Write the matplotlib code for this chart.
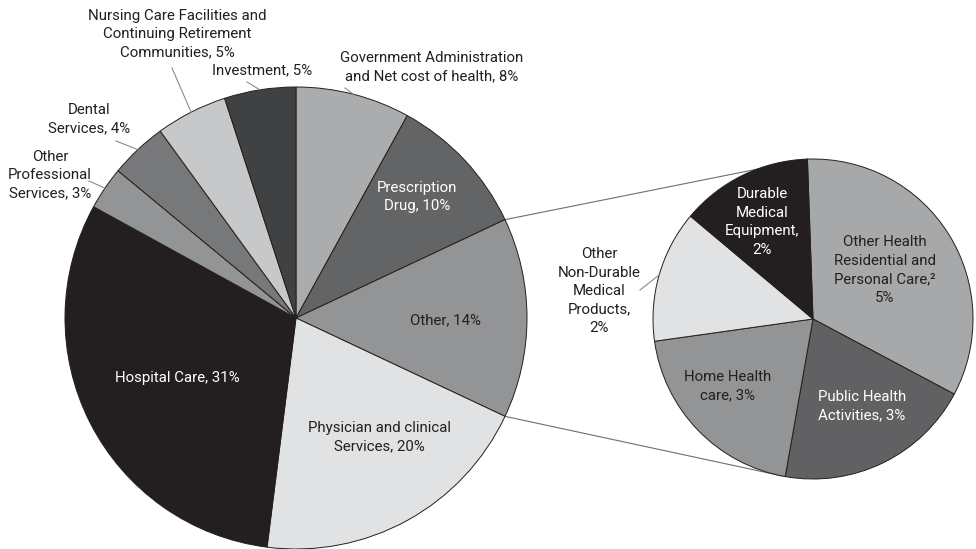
import numpy as np
import matplotlib.pyplot as plt

plt.rcParams['font.family'] = ['Roboto', 'DejaVu Sans']

W, H = 976, 549

# national health expenditure shares
main_labels = ["Government Administration\nand Net cost of health, 8%",
               "Prescription\nDrug, 10%",
               "Other, 14%",
               "Physician and clinical\nServices, 20%",
               "Hospital Care, 31%",
               "Other\nProfessional\nServices, 3%",
               "Dental\nServices, 4%",
               "Nursing Care Facilities and\nContinuing Retirement\nCommunities, 5%",
               "Investment, 5%"]
main_values = [8, 10, 14, 20, 31, 3, 4, 5, 5]
main_colors = ["#abacae", "#636466", "#939496", "#e1e2e3", "#231f20",
               "#939496", "#77787a", "#c7c8ca", "#404143"]

# breakdown of the "Other" slice
other_labels = ["Other Health\nResidential and\nPersonal Care,\u00b2\n5%",
                "Public Health\nActivities, 3%",
                "Home Health\ncare, 3%",
                "Other\nNon-Durable\nMedical\nProducts,\n2%",
                "Durable\nMedical\nEquipment,\n2%"]
other_values = [5, 3, 3, 2, 2]
other_colors = ["#a7a8aa", "#616163", "#939496", "#e1e2e3", "#231f20"]

big_c, big_r = (296, H - 318), 231
small_c, small_r = (813, H - 319), 160
big_start, small_start = 90, 92

fig = plt.figure(figsize=(9.76, 5.49), dpi=100)
ax = fig.add_axes([0, 0, 1, 1])

wp = dict(edgecolor="#231f20", linewidth=0.7)
ax.pie(main_values, colors=main_colors, startangle=big_start, counterclock=False,
       center=big_c, radius=big_r, wedgeprops=wp, frame=True)
ax.pie(other_values, colors=other_colors, startangle=small_start, counterclock=False,
       center=small_c, radius=small_r, wedgeprops=wp, frame=True)

ax.set_xlim(0, W)
ax.set_ylim(0, H)
ax.set_aspect("equal")
ax.axis("off")


def edge_angles(values, start):
    cum = np.concatenate([[0], np.cumsum(values)]) / np.sum(values) * 360
    return start - cum


def on_arc(c, r, ang, k=1.0):
    a = np.deg2rad(ang)
    return c[0] + k * r * np.cos(a), c[1] + k * r * np.sin(a)


big_edges = edge_angles(main_values, big_start)
small_edges = edge_angles(other_values, small_start)

# connector lines from the "Other" slice to the breakdown pie
for a_big, a_small in [(big_edges[2], small_edges[0]), (big_edges[3], small_edges[2])]:
    x0, y0 = on_arc(big_c, big_r, a_big)
    x1, y1 = on_arc(small_c, small_r, a_small)
    ax.plot([x0, x1], [y0, y1], color="#6d6e70", lw=0.8, zorder=0.5)

dark, light = "#231f20", "white"
txt = dict(ha="center", va="center", fontsize=10.8, linespacing=1.4)

# labels inside the big pie (x, y in pixels from top)
inner_main = {1: (417, 197, light), 2: (445, 320, dark), 3: (379, 437, dark), 4: (177, 378, light)}
for i, (x, y, col) in inner_main.items():
    ax.text(x, H - y, main_labels[i], color=col, **txt)

# outside labels with leader lines
outer_main = {0: (432, 67, (345, 88)), 5: (50, 175, (89, 181)), 6: (89, 119, (116, 141)),
              7: (177, 34, (172, 68)), 8: (262, 70, (247, 82))}
for i, (x, y, tail) in outer_main.items():
    ax.text(x, H - y, main_labels[i], color=dark, **txt)
    mid = (big_edges[i] + big_edges[i + 1]) / 2
    ex, ey = on_arc(big_c, big_r, mid)
    ax.plot([tail[0], ex], [H - tail[1], ey], color="#8a8b8d", lw=0.8, zorder=3)

inner_small = {0: (885, 270, dark), 1: (862, 406, light), 2: (728, 386, dark), 4: (762, 222, light)}
for i, (x, y, col) in inner_small.items():
    ax.text(x, H - y, other_labels[i], color=col, **txt)

ax.text(599, H - 291, other_labels[3], color=dark, **txt)
mid = (small_edges[3] + small_edges[4]) / 2
ex, ey = on_arc(small_c, small_r, mid)
ax.plot([640, ex], [H - 290, ey], color="#8a8b8d", lw=0.8, zorder=3)

plt.savefig("out.png", dpi=100)
